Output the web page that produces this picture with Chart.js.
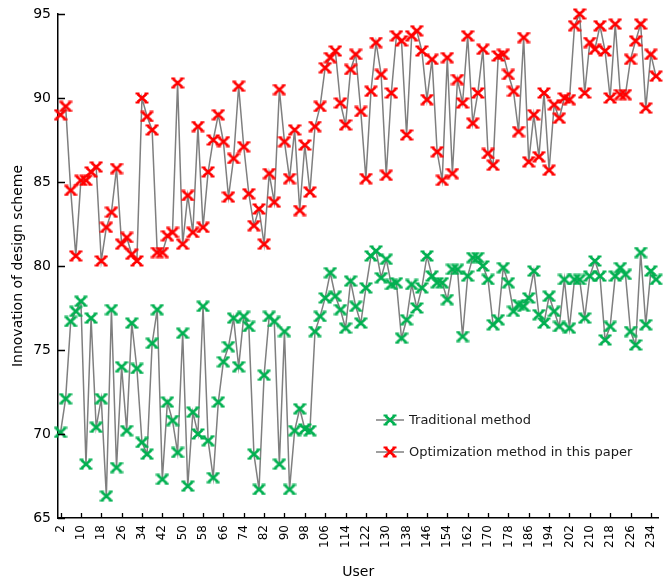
<!DOCTYPE html>
<html>
<head>
<meta charset="utf-8">
<script src="https://cdn.jsdelivr.net/npm/chart.js@4.4.1/dist/chart.umd.min.js"></script>
<style>
  html, body { margin: 0; padding: 0; background: #fff; }
  #wrap { width: 666px; height: 583px; }
</style>
</head>
<body>
<div id="wrap"><canvas id="chart" width="666" height="583"></canvas></div>
<script>
// User index on the horizontal axis
const users = [
  2, 4, 6, 8, 10, 12, 14, 16, 18, 20, 22, 24, 26, 28, 30, 32, 34, 36, 38, 40,
  42, 44, 46, 48, 50, 52, 54, 56, 58, 60, 62, 64, 66, 68, 70, 72, 74, 76, 78, 80,
  82, 84, 86, 88, 90, 92, 94, 96, 98, 100, 102, 104, 106, 108, 110, 112, 114, 116, 118, 120,
  122, 124, 126, 128, 130, 132, 134, 136, 138, 140, 142, 144, 146, 148, 150, 152, 154, 156, 158, 160,
  162, 164, 166, 168, 170, 172, 174, 176, 178, 180, 182, 184, 186, 188, 190, 192, 194, 196, 198, 200,
  202, 204, 206, 208, 210, 212, 214, 216, 218, 220, 222, 224, 226, 228, 230, 232, 234, 236
];

// Labelled user ticks
const xTickLabels = [2, 10, 18, 26, 34, 42, 50, 58, 66, 74, 82, 90, 98, 106, 114, 122,
  130, 138, 146, 154, 162, 170, 178, 186, 194, 202, 210, 218, 226, 234];

// Innovation score ticks
const yTickLabels = [65, 70, 75, 80, 85, 90, 95];

const seriesNames = ['Traditional method', 'Optimization method in this paper'];

const traditional = [
  70.1, 72.1, 76.7, 77.3, 77.9, 68.2, 76.9, 70.4, 72.1, 66.3,
  77.4, 68.0, 74.0, 70.2, 76.6, 73.9, 69.5, 68.8, 75.4, 77.4,
  67.3, 71.9, 70.8, 68.9, 76.0, 66.9, 71.3, 70.0, 77.6, 69.6,
  67.4, 71.9, 74.3, 75.2, 76.9, 74.0, 77.0, 76.4, 68.8, 66.7,
  73.5, 77.0, 76.7, 68.2, 76.1, 66.7, 70.2, 71.5, 70.3, 70.2,
  76.1, 77.0, 78.1, 79.6, 78.2, 77.4, 76.3, 79.1, 77.6, 76.6,
  78.7, 80.6, 80.9, 79.3, 80.4, 78.9, 79.0, 75.7, 76.8, 78.9,
  77.5, 78.7, 80.6, 79.4, 79.0, 79.0, 78.0, 79.8, 79.8, 75.8,
  79.4, 80.5, 80.5, 80.0, 79.2, 76.5, 76.8, 79.9, 79.0, 77.3,
  77.7, 77.6, 78.1, 79.7, 77.1, 76.6, 78.2, 77.3, 76.4, 79.2,
  76.3, 79.2, 79.2, 76.9, 79.4, 80.3, 79.4, 75.6, 76.4, 79.4,
  79.9, 79.5, 76.1, 75.3, 80.8, 76.5, 79.7, 79.2
];

const optimization = [
  89.0, 89.5, 84.5, 80.6, 85.1, 85.1, 85.6, 85.9, 80.3, 82.3,
  83.2, 85.8, 81.3, 81.7, 80.7, 80.3, 90.0, 88.9, 88.1, 80.8,
  80.8, 81.8, 82.0, 90.9, 81.3, 84.2, 82.0, 88.3, 82.3, 85.6,
  87.5, 89.0, 87.4, 84.1, 86.4, 90.7, 87.1, 84.3, 82.4, 83.4,
  81.3, 85.5, 83.8, 90.5, 87.4, 85.2, 88.1, 83.3, 87.2, 84.4,
  88.3, 89.5, 91.8, 92.4, 92.8, 89.7, 88.4, 91.7, 92.6, 89.2,
  85.2, 90.4, 93.3, 91.4, 85.4, 90.3, 93.7, 93.4, 87.8, 93.7,
  94.0, 92.8, 89.9, 92.3, 86.8, 85.1, 92.4, 85.5, 91.1, 89.7,
  93.7, 88.5, 90.3, 92.9, 86.7, 86.0, 92.5, 92.6, 91.4, 90.4,
  88.0, 93.6, 86.2, 89.0, 86.5, 90.3, 85.7, 89.6, 88.8, 90.0,
  89.9, 94.3, 95.0, 90.3, 93.3, 92.9, 94.3, 92.8, 90.0, 94.4,
  90.2, 90.2, 92.3, 93.4, 94.4, 89.4, 92.6, 91.3
];

const FONT = 'DejaVu Sans, Verdana, sans-serif';
const GREEN = '#00b050';
const RED = '#ff0000';
const LINE_GREY = '#7f7f7f';

// Bold "x" marker with small flat caps on each arm
function makeMarker(color) {
  const c = document.createElement('canvas');
  c.width = 14; c.height = 12;
  const g = c.getContext('2d');
  g.strokeStyle = color;
  g.lineCap = 'butt';
  g.lineWidth = 2.6;
  g.beginPath();
  g.moveTo(2.5, 2); g.lineTo(11.5, 10);
  g.moveTo(11.5, 2); g.lineTo(2.5, 10);
  g.stroke();
  g.lineWidth = 2;
  g.beginPath();
  g.moveTo(0.5, 1.5); g.lineTo(4.5, 1.5);
  g.moveTo(9.5, 1.5); g.lineTo(13.5, 1.5);
  g.moveTo(0.5, 10.5); g.lineTo(4.5, 10.5);
  g.moveTo(9.5, 10.5); g.lineTo(13.5, 10.5);
  g.stroke();
  return c;
}

const greenMarker = makeMarker(GREEN);
const redMarker = makeMarker(RED);

const toPoints = vals => vals.map((v, i) => ({ x: users[i], y: v }));

// Inward tick marks on both axes
const innerTicks = {
  id: 'innerTicks',
  afterDraw(chart) {
    const { ctx, chartArea, scales } = chart;
    ctx.save();
    ctx.strokeStyle = '#000';
    ctx.lineWidth = 1.3;
    ctx.beginPath();
    scales.y.ticks.forEach(t => {
      const py = Math.round(scales.y.getPixelForValue(t.value)) + 0.5;
      ctx.moveTo(chartArea.left, py);
      ctx.lineTo(chartArea.left + 7, py);
    });
    scales.x.ticks.forEach(t => {
      const px = Math.round(scales.x.getPixelForValue(t.value)) + 0.5;
      ctx.moveTo(px, chartArea.bottom);
      ctx.lineTo(px, chartArea.bottom - 5);
    });
    ctx.stroke();
    ctx.restore();
  }
};

// Legend drawn inside the plot, lower right
const innerLegend = {
  id: 'innerLegend',
  afterDraw(chart) {
    const { ctx } = chart;
    const entries = [
      { label: seriesNames[0], marker: greenMarker, y: 420 },
      { label: seriesNames[1], marker: redMarker, y: 452 }
    ];
    ctx.save();
    entries.forEach(e => {
      ctx.strokeStyle = LINE_GREY;
      ctx.lineWidth = 1.5;
      ctx.beginPath();
      ctx.moveTo(376, e.y);
      ctx.lineTo(404, e.y);
      ctx.stroke();
      ctx.drawImage(e.marker, 390 - 7, e.y - 6);
      ctx.fillStyle = '#1a1a1a';
      ctx.font = '13px ' + FONT;
      ctx.textBaseline = 'middle';
      ctx.textAlign = 'left';
      ctx.fillText(e.label, 409, e.y + 1);
    });
    ctx.restore();
  }
};

new Chart(document.getElementById('chart'), {
  type: 'line',
  data: {
    datasets: [
      {
        label: seriesNames[0],
        data: toPoints(traditional),
        borderColor: LINE_GREY,
        borderWidth: 1.5,
        pointStyle: greenMarker,
        pointRadius: 6,
        backgroundColor: GREEN,
        tension: 0,
        clip: false
      },
      {
        label: seriesNames[1],
        data: toPoints(optimization),
        borderColor: LINE_GREY,
        borderWidth: 1.5,
        pointStyle: redMarker,
        pointRadius: 6,
        backgroundColor: RED,
        tension: 0,
        clip: false
      }
    ]
  },
  options: {
    responsive: false,
    animation: false,
    devicePixelRatio: 1,
    layout: { padding: { top: 14, right: 0, left: 0, bottom: 0 } },
    plugins: {
      legend: { display: false },
      tooltip: { enabled: false }
    },
    scales: {
      x: {
        type: 'linear',
        min: 1,
        max: 237,
        afterBuildTicks: s => { s.ticks = xTickLabels.map(v => ({ value: v })); },
        afterFit: s => { s.height = 65; s.paddingLeft = 0; s.paddingRight = 0; },
        grid: { drawOnChartArea: false, drawTicks: false },
        border: { color: '#000', width: 1.5 },
        ticks: {
          autoSkip: false,
          maxRotation: 90,
          minRotation: 90,
          padding: 7,
          color: '#000',
          font: { family: FONT, size: 12 }
        },
        title: {
          display: true,
          text: 'User',
          color: '#000',
          font: { family: FONT, size: 14 },
          padding: { top: 0, bottom: 2 }
        }
      },
      y: {
        min: 65,
        max: 95,
        afterBuildTicks: s => { s.ticks = yTickLabels.map(v => ({ value: v })); },
        afterFit: s => { s.width = 58; s.paddingTop = 0; s.paddingBottom = 0; },
        grid: { drawOnChartArea: false, drawTicks: false },
        border: { color: '#000', width: 1.5 },
        ticks: {
          padding: 7,
          color: '#000',
          font: { family: FONT, size: 14 }
        },
        title: {
          display: true,
          text: 'Innovation of design scheme',
          color: '#000',
          font: { family: FONT, size: 14 },
          padding: { top: 10, bottom: 0 }
        }
      }
    }
  },
  plugins: [innerTicks, innerLegend]
});
</script>
</body>
</html>
